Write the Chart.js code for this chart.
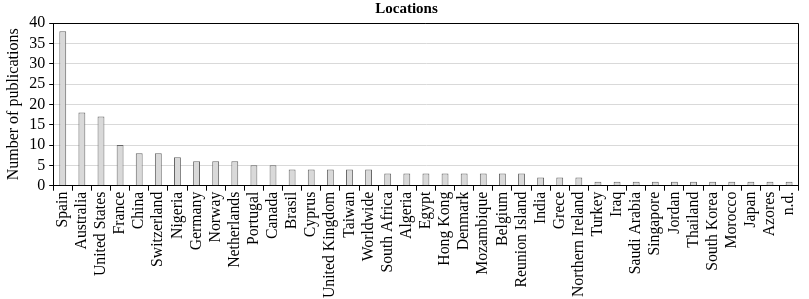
<!DOCTYPE html>
<html>
<head>
<meta charset="utf-8">
<script src="https://cdn.jsdelivr.net/npm/chart.js@4"></script>
<style>
  html, body { margin: 0; padding: 0; background: #fff; }
  #wrap { width: 809px; height: 299px; }
</style>
</head>
<body>
<div id="wrap"><canvas id="my-chart" width="809" height="299"></canvas></div>
<script>
const locations = ['Spain', 'Australia', 'United States', 'France', 'China', 'Switzerland', 'Nigeria',
  'Germany', 'Norway', 'Netherlands', 'Portugal', 'Canada', 'Brasil', 'Cyprus', 'United Kingdom',
  'Taiwan', 'Worldwide', 'South Africa', 'Algeria', 'Egypt', 'Hong Kong', 'Denmark', 'Mozambique',
  'Belgium', 'Reunion Island', 'India', 'Grece', 'Northern Ireland', 'Turkey', 'Iraq', 'Saudi Arabia',
  'Singapore', 'Jordan', 'Thailand', 'South Korea', 'Morocco', 'Japan', 'Azores', 'n.d.'];
const publications = [38, 18, 17, 10, 8, 8, 7, 6, 6, 6, 5, 5, 4, 4, 4, 4, 4, 3, 3, 3, 3, 3, 3, 3, 3,
  2, 2, 2, 1, 1, 1, 1, 1, 1, 1, 1, 1, 1, 1];
const yTicks = [0, 5, 10, 15, 20, 25, 30, 35, 40];

const font = 'Liberation Serif';

// box around the plot area (top and right edges)
const frame = {
  id: 'frame',
  afterDraw(chart) {
    const a = chart.chartArea;
    const c = chart.ctx;
    c.save();
    c.strokeStyle = '#000';
    c.lineWidth = 1;
    c.beginPath();
    c.moveTo(a.left, Math.round(a.top) + 0.5);
    c.lineTo(Math.round(a.right) - 0.5, Math.round(a.top) + 0.5);
    c.lineTo(Math.round(a.right) - 0.5, a.bottom);
    c.stroke();
    c.restore();
  }
};

const ctx = document.getElementById('my-chart').getContext('2d');
const chart = new Chart(ctx, {
  type: 'bar',
  data: {
    labels: locations,
    datasets: [{
      label: 'Number of publications',
      data: publications,
      backgroundColor: '#d9d9d9',
      borderColor: '#666',
      borderWidth: 1,
      barPercentage: 0.36,
      categoryPercentage: 1
    }]
  },
  options: {
    responsive: false,
    animation: false,
    layout: { padding: { top: 0, right: 0, left: 4, bottom: 0 } },
    plugins: {
      legend: { display: false },
      tooltip: { enabled: false },
      title: {
        display: true,
        text: 'Locations',
        color: '#000',
        font: { family: font, size: 15, weight: 'bold' },
        padding: { top: 0, bottom: 5 }
      }
    },
    scales: {
      x: {
        offset: true,
        grid: {
          offset: true,
          drawOnChartArea: false,
          drawTicks: true,
          tickLength: 5,
          color: '#000'
        },
        border: { color: '#000', width: 1 },
        ticks: {
          autoSkip: false,
          minRotation: 90,
          maxRotation: 90,
          color: '#000',
          padding: 1,
          font: { family: font, size: 15.75 }
        }
      },
      y: {
        min: 0,
        max: 40,
        afterBuildTicks(axis) { axis.ticks = yTicks.map(v => ({ value: v })); },
        grid: {
          color: '#d9d9d9',
          tickLength: 4,
          tickColor: '#000'
        },
        border: { color: '#000', width: 1 },
        ticks: {
          autoSkip: false,
          color: '#000',
          padding: 4,
          font: { family: font, size: 16 }
        },
        title: {
          display: true,
          text: 'Number of publications',
          color: '#000',
          padding: { top: 0, bottom: 2 },
          font: { family: font, size: 16 }
        }
      }
    }
  },
  plugins: [frame]
});
</script>
</body>
</html>
